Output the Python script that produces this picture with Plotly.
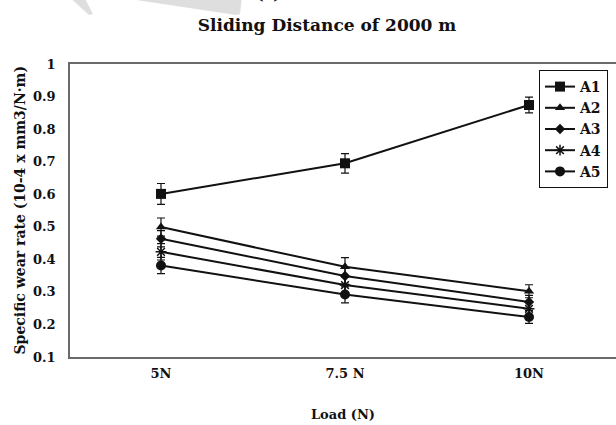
import plotly.graph_objects as go

# Load categories and tick labels
loads = [0, 1, 2]
load_labels = ["5N", "7.5 N", "10N"]

# Specific wear rate (10^-4 mm3/N·m) per alloy, with error margins
a1 = [0.601, 0.695, 0.874]
a2 = [0.499, 0.377, 0.302]
a3 = [0.463, 0.349, 0.269]
a4 = [0.423, 0.321, 0.248]
a5 = [0.381, 0.292, 0.223]

a1_err = [0.032, 0.03, 0.024]
a2_err = [0.028, 0.028, 0.02]
a3_err = [0.025, 0.025, 0.02]
a4_err = [0.025, 0.025, 0.02]
a5_err = [0.025, 0.026, 0.02]

series_names = ["A1", "A2", "A3", "A4", "A5"]
y_ticks = [0.1, 0.2, 0.3, 0.4, 0.5, 0.6, 0.7, 0.8, 0.9, 1.0]
y_tick_labels = ["0.1", "0.2", "0.3", "0.4", "0.5", "0.6", "0.7", "0.8", "0.9", "1"]

FONT = "DejaVu Serif"
INK = "#111111"

styles = [
    dict(symbol="square", size=10),
    dict(symbol="triangle-up", size=9),
    dict(symbol="diamond", size=8),
    dict(symbol="asterisk-open", size=9),
    dict(symbol="circle", size=10),
]

fig = go.Figure()
for name, vals, errs, st in zip(series_names, [a1, a2, a3, a4, a5],
                                [a1_err, a2_err, a3_err, a4_err, a5_err], styles):
    fig.add_trace(go.Scatter(
        x=loads, y=vals, name="<b>%s</b>" % name, mode="lines+markers",
        line=dict(color=INK, width=2),
        marker=dict(symbol=st["symbol"], size=st["size"], color=INK,
                    line=dict(color=INK, width=1.5 if "asterisk" in st["symbol"] else 0)),
        error_y=dict(type="data", array=errs, color=INK, thickness=1.2, width=4),
    ))

W, H = 616, 425
L, R, T, B = 70, 0, 64, 68
pw = W - L - R
x0_px, step_px = 161, 184

fig.update_layout(
    width=W, height=H,
    margin=dict(l=L, r=R, t=T, b=B),
    paper_bgcolor="white", plot_bgcolor="white",
    font=dict(family=FONT, color=INK, size=13),
    title=dict(text="<b>Sliding Distance of 2000 m</b>", x=(327 - L) / pw, xref="paper",
               xanchor="center", y=1 - 25 / H, yanchor="middle",
               font=dict(family=FONT, size=17, color=INK)),
    showlegend=True,
    legend=dict(x=(539 - L) / pw, y=(H - B - 70) / (H - T - B), xanchor="left", yanchor="top",
                bordercolor=INK, borderwidth=1, bgcolor="white",
                font=dict(family=FONT, size=14, color=INK), itemwidth=30,
                tracegroupgap=0),
    xaxis=dict(
        range=[-(x0_px - L) / step_px, (W - R - x0_px) / step_px],
        tickvals=loads, ticktext=["<b>%s</b>" % t for t in load_labels],
        showgrid=False, zeroline=False, ticks="",
        showline=True, mirror=True, linecolor="#6a6a6a", linewidth=1.5,
        ticklabelstandoff=4,
        title=dict(text="<b>Load (N)</b>", standoff=30, font=dict(family=FONT, size=13)),
        tickfont=dict(family=FONT, size=13),
    ),
    yaxis=dict(
        range=[0.1, 1.0], tickvals=y_ticks,
        ticktext=["<b>%s</b>" % t for t in y_tick_labels],
        showgrid=False, zeroline=False, ticks="",
        showline=True, mirror=False, linecolor="#6a6a6a", linewidth=1.5,
        ticklabelstandoff=10,
        tickfont=dict(family=FONT, size=13),
    ),
)

# Rotated y-axis title
fig.add_annotation(
    text="<b>Specific wear rate (10-4 x mm3/N·m)</b>",
    xref="paper", yref="paper", x=(19 - L) / pw, y=0.5,
    xanchor="center", yanchor="middle", textangle=-90, showarrow=False,
    font=dict(family=FONT, size=14, color=INK),
)

# Faint watermark bands and the clipped panel label at the top edge
ph = H - T - B
def px(xp, yp):
    return (xp - L) / pw, (H - B - yp) / ph

def path(points):
    parts = []
    for i, (xp, yp) in enumerate(points):
        x, y = px(xp, yp)
        parts.append(("M" if i == 0 else "L") + " %.4f %.4f" % (x, y))
    return " ".join(parts) + " Z"

for poly in [[(67, -5), (83, -5), (93, 14), (89, 15)],
             [(103, -5), (242, -5), (240, 14), (236, 15)]]:
    fig.add_shape(type="path", path=path(poly), xref="paper", yref="paper",
                  fillcolor="#dedede", line=dict(width=0), layer="below")

fig.add_annotation(text="<b>(c)</b>", xref="paper", yref="paper",
                   x=px(268, 0)[0], y=px(0, 5)[1], xanchor="center", yanchor="bottom",
                   showarrow=False, font=dict(family=FONT, size=16, color=INK))

fig.write_html("out.html")
